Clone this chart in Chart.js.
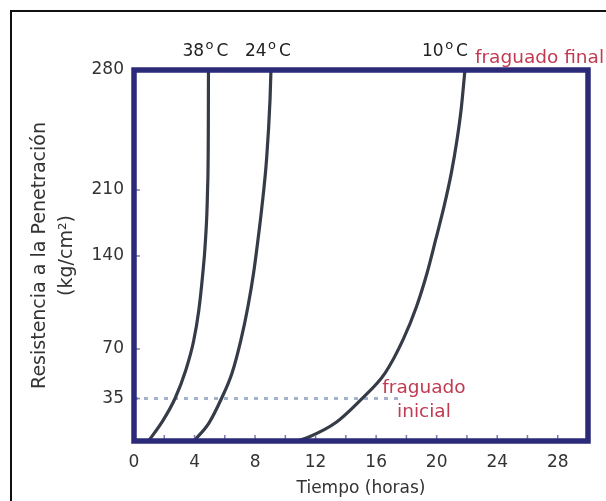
<!DOCTYPE html>
<html>
<head>
<meta charset="utf-8">
<script src="https://cdn.jsdelivr.net/npm/chart.js@4/dist/chart.umd.min.js"></script>
<style>
  html, body { margin: 0; padding: 0; background: #fff; }
  #wrap { position: relative; width: 606px; height: 501px; overflow: hidden; }
  #frame { position: absolute; left: 10px; top: 10px; width: 700px; height: 600px;
           border-left: 2.5px solid #111; border-top: 2.5px solid #111; }
  canvas { position: absolute; left: 0; top: 0; }
</style>
</head>
<body>
<div id="wrap">
  <div id="frame"></div>
  <canvas id="c" width="606" height="501"></canvas>
</div>
<script>
// Tiempo de fraguado del concreto a distintas temperaturas

const xTicks = [0, 4, 8, 12, 16, 20, 24, 28];          // horas
const yTicks = [35, 70, 140, 210, 280];                 // kg/cm²

const temperatures = ['38', '24', '10'];                // °C

const hours38 = [0.96, 1.92, 2.71, 3.42, 3.94, 4.28, 4.53, 4.72, 4.86, 4.91, 4.92];
const resist38 = [0, 17, 35, 55, 76, 99, 125, 156, 210, 244, 280];

const hours24 = [3.96, 4.96, 5.78, 6.48, 7.07, 7.53, 7.9, 8.19, 8.43, 8.76, 8.99, 9.05];
const resist24 = [0, 15, 35, 53, 77, 102, 127, 157, 189, 228, 263, 280];

const hours10 = [10.77, 11.56, 13.32, 15.07, 16.59, 17.78, 18.67, 19.36, 19.93, 20.48, 20.97, 21.34, 21.63, 21.87];
const resist10 = [0, 3.3, 15, 35, 53, 77, 102, 127, 157, 192, 220, 239, 258, 280];

const initialSetValue = 35;          // fraguado inicial, kg/cm²
const initialSetLineHours = [0, 17.6];
const finalSetValue = 280;           // fraguado final, kg/cm²

// Vertical axis whose tick spacing is not uniform: value -> fraction of the height
class PiecewiseScale extends Chart.LinearScale {
  _toDecimal(value) {
    const s = this.options.stops;
    if (value <= s[0][0]) return s[0][1];
    for (let i = 1; i < s.length; i++) {
      if (value <= s[i][0]) {
        const [v0, f0] = s[i - 1], [v1, f1] = s[i];
        return f0 + (value - v0) / (v1 - v0) * (f1 - f0);
      }
    }
    return s[s.length - 1][1];
  }
  getPixelForValue(value) {
    if (value === null || isNaN(value)) return NaN;
    return this.getPixelForDecimal(this._toDecimal(value));
  }
  getValueForPixel(pixel) {
    const d = this.getDecimalForPixel(pixel);
    const s = this.options.stops;
    for (let i = 1; i < s.length; i++) {
      if (d <= s[i][1]) {
        const [v0, f0] = s[i - 1], [v1, f1] = s[i];
        return v0 + (d - f0) / (f1 - f0) * (v1 - v0);
      }
    }
    return s[s.length - 1][0];
  }
}
PiecewiseScale.id = 'piecewise';
PiecewiseScale.defaults = Chart.LinearScale.defaults;
Chart.register(PiecewiseScale);

Chart.defaults.font.family = "'DejaVu Sans', sans-serif";

const toPoints = (xs, ys) => xs.map((x, i) => ({ x, y: ys[i] }));

const curveStyle = {
  borderColor: '#363b48',
  borderWidth: 3.2,
  pointRadius: 0,
  cubicInterpolationMode: 'monotone',
  fill: false
};

// Frame, inner tick marks and text annotations
const annotations = {
  id: 'annotations',
  afterDatasetsDraw(chart) {
    const { ctx, chartArea: a, scales: { x, y } } = chart;
    ctx.save();

    // small inward tick marks
    ctx.strokeStyle = '#7a7ab4';
    ctx.lineWidth = 1.5;
    for (let h = 2; h < 30; h += 2) {
      const px = x.getPixelForValue(h);
      ctx.beginPath(); ctx.moveTo(px, a.bottom - 2); ctx.lineTo(px, a.bottom - 6); ctx.stroke();
    }
    yTicks.forEach(v => {
      const py = y.getPixelForValue(v);
      ctx.beginPath(); ctx.moveTo(a.left + 2, py); ctx.lineTo(a.left + 6, py); ctx.stroke();
    });

    // plot frame
    ctx.strokeStyle = '#2b2a78';
    ctx.lineWidth = 5.5;
    ctx.strokeRect(a.left, a.top, a.right - a.left, a.bottom - a.top);

    // temperature labels above each curve
    const big = "17px 'DejaVu Sans', sans-serif";
    const small = "13px 'DejaVu Sans', sans-serif";
    const topY = y.getPixelForValue(finalSetValue);
    const ends = [hours38[hours38.length - 1], hours24[hours24.length - 1], hours10[hours10.length - 1]];
    ctx.fillStyle = '#222';
    ctx.textBaseline = 'alphabetic';
    let lastRight = 0;
    temperatures.forEach((t, i) => {
      ctx.font = big; const wd = ctx.measureText(t).width; const wc = ctx.measureText('C').width;
      ctx.font = small; const wo = ctx.measureText('o').width;
      const total = wd + 1.5 + wo + 3 + wc;
      const ax = x.getPixelForValue(ends[i]);
      const left = i === 2 ? ax + 3 - total : ax - 3 - total / 2;
      const base = topY - 14;
      ctx.textAlign = 'left';
      ctx.font = big; ctx.fillText(t, left, base);
      ctx.font = small; ctx.fillText('o', left + wd + 1.5, base - 7);
      ctx.font = big; ctx.fillText('C', left + wd + 1.5 + wo + 3, base);
      lastRight = left + total;
    });

    ctx.fillStyle = '#c23a52';
    ctx.font = "18.5px 'DejaVu Sans', sans-serif";
    ctx.textAlign = 'left';
    ctx.fillText('fraguado final', lastRight + 7, topY - 7);

    const cx = x.getPixelForValue(19.16);
    const iy = y.getPixelForValue(initialSetValue);
    ctx.textAlign = 'center';
    ctx.fillText('fraguado', cx, iy - 6);
    ctx.fillText('inicial', cx, iy + 18);

    ctx.restore();
  }
};

new Chart(document.getElementById('c'), {
  type: 'line',
  data: {
    datasets: [
      { label: '38 °C', data: toPoints(hours38, resist38), ...curveStyle },
      { label: '24 °C', data: toPoints(hours24, resist24), ...curveStyle },
      { label: '10 °C', data: toPoints(hours10, resist10), ...curveStyle },
      {
        label: 'fraguado inicial',
        data: toPoints(initialSetLineHours, initialSetLineHours.map(() => initialSetValue)),
        borderColor: '#a3b4ca',
        borderWidth: 3,
        borderDash: [4, 6],
        pointRadius: 0,
        tension: 0
      }
    ]
  },
  options: {
    responsive: false,
    devicePixelRatio: 1,
    animation: false,
    layout: { padding: { left: 0, right: 18, top: 70, bottom: 0 } },
    plugins: { legend: { display: false }, tooltip: { enabled: false } },
    scales: {
      x: {
        type: 'linear',
        min: 0,
        max: 30,
        grid: { display: false, drawTicks: false },
        border: { display: false },
        ticks: { color: '#333', font: { size: 17 }, padding: 11, maxRotation: 0, autoSkip: false },
        title: { display: true, text: 'Tiempo (horas)', color: '#333', font: { size: 17 }, padding: { top: 0, bottom: 2 } },
        afterBuildTicks: s => { s.ticks = xTicks.map(v => ({ value: v })); },
        afterFit: s => { s.height = 60; }
      },
      y: {
        type: 'piecewise',
        min: 0,
        max: 280,
        stops: [[0, 0], [35, 0.1145], [70, 0.248], [140, 0.4987], [210, 0.6765], [280, 1]],
        grid: { display: false, drawTicks: false },
        border: { display: false },
        ticks: { color: '#333', font: { size: 17 }, padding: 10, autoSkip: false },
        title: {
          display: true,
          text: ['Resistencia a la Penetración', '(kg/cm²)'],
          color: '#333',
          font: { size: 19, lineHeight: 1.42 },
          padding: { top: 26.5, bottom: 0 }
        },
        afterBuildTicks: s => { s.ticks = yTicks.map(v => ({ value: v })); },
        afterFit: s => { s.width = 134; }
      }
    }
  },
  plugins: [annotations]
});
</script>
</body>
</html>
